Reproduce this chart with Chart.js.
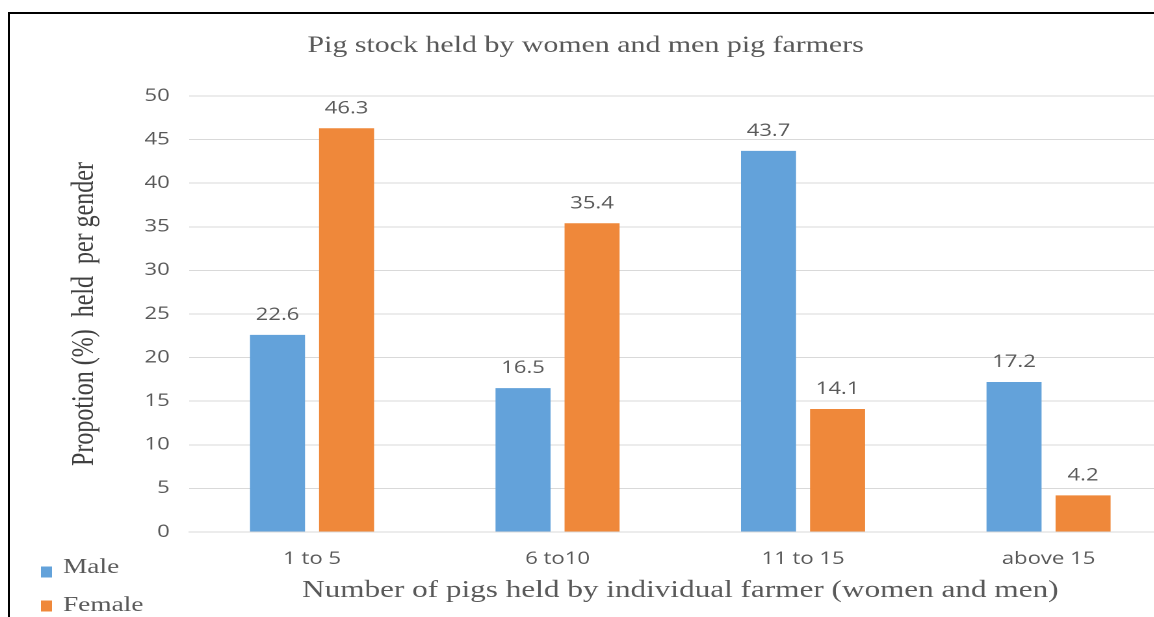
<!DOCTYPE html>
<html>
<head>
<meta charset="utf-8">
<script src="https://cdn.jsdelivr.net/npm/chart.js@4/dist/chart.umd.min.js"></script>
<style>
  html, body { margin: 0; padding: 0; background: #ffffff; overflow: hidden; width: 1154px; height: 617px; }
  #frame { position: absolute; left: 8px; top: 12px; width: 2000px; height: 2000px;
           border-top: 2px solid #000; border-left: 2px solid #000; z-index: 2; pointer-events: none; }
  #wrap { position: absolute; left: 0; top: 0; width: 901px; height: 617px;
          transform: scaleX(1.3); transform-origin: 0 0; }
</style>
</head>
<body>
<div id="wrap"><canvas id="c" width="901" height="617"></canvas></div>
<div id="frame"></div>
<script>
const categories = ['1 to 5', '6 to10', '11 to 15', 'above 15'];
const maleValues = [22.6, 16.5, 43.7, 17.2];
const femaleValues = [46.3, 35.4, 14.1, 4.2];
const seriesNames = ['Male', 'Female'];
const yTicks = [0, 5, 10, 15, 20, 25, 30, 35, 40, 45, 50];

const BLUE = '#63A2DA';
const ORANGE = '#EF883A';
const TEXT = '#595959';

const valueLabels = {
  id: 'valueLabels',
  afterDatasetsDraw(chart) {
    const ctx = chart.ctx;
    ctx.save();
    ctx.font = '17px "Open Sans"';
    ctx.fillStyle = TEXT;
    ctx.textAlign = 'center';
    ctx.textBaseline = 'alphabetic';
    chart.data.datasets.forEach((ds, di) => {
      const meta = chart.getDatasetMeta(di);
      meta.data.forEach((bar, i) => {
        ctx.fillText(ds.data[i].toFixed(1), bar.x, bar.y - 15);
      });
    });
    ctx.restore();
  }
};

const sideLegend = {
  id: 'sideLegend',
  afterDraw(chart) {
    const ctx = chart.ctx;
    ctx.save();
    ctx.font = '21px "Liberation Serif"';
    ctx.textAlign = 'left';
    ctx.textBaseline = 'alphabetic';
    const rows = [{ sq: 566.5, base: 573 }, { sq: 600.5, base: 611 }];
    chart.data.datasets.forEach((ds, di) => {
      const r = rows[di];
      ctx.fillStyle = ds.backgroundColor;
      ctx.fillRect(31.5, r.sq, 8.5, 11);
      ctx.fillStyle = TEXT;
      ctx.fillText(ds.label, 48.5, r.base);
    });
    ctx.restore();
  }
};

new Chart(document.getElementById('c'), {
  type: 'bar',
  data: {
    labels: categories,
    datasets: [
      { label: seriesNames[0], data: maleValues, backgroundColor: BLUE },
      { label: seriesNames[1], data: femaleValues, backgroundColor: ORANGE }
    ]
  },
  options: {
    responsive: false,
    animation: false,
    devicePixelRatio: 2,
    categoryPercentage: 0.5625,
    barPercentage: 0.797,
    layout: { padding: 0 },
    plugins: {
      legend: { display: false },
      tooltip: { enabled: false },
      title: {
        display: true,
        text: 'Pig stock held by women and men pig farmers',
        color: TEXT,
        font: { family: '"Liberation Serif"', size: 23, weight: 'normal' },
        padding: { top: 32, bottom: 36.4 }
      }
    },
    scales: {
      x: {
        afterFit(scale) { scale.height = 85; },
        grid: { display: false, drawTicks: false },
        border: { display: true, color: '#d9d9d9', width: 1 },
        ticks: { color: TEXT, font: { family: '"Open Sans"', size: 17 }, padding: 17 },
        title: {
          display: true,
          text: 'Number of pigs held by individual farmer (women and men)',
          color: TEXT,
          font: { family: '"Liberation Serif"', size: 24 },
          padding: { top: 7, bottom: 12 }
        }
      },
      y: {
        min: 0,
        max: 50,
        afterBuildTicks(scale) { scale.ticks = yTicks.map(v => ({ value: v })); },
        afterFit(scale) { scale.width = 145.6; },
        grid: { color: '#d9d9d9', lineWidth: 1, drawTicks: false },
        border: { display: false },
        ticks: { color: TEXT, font: { family: '"Open Sans"', size: 17 }, padding: 15 },
        title: {
          display: true,
          text: 'Propotion (%)  held  per gender',
          color: '#404040',
          font: { family: '"Liberation Serif"', size: 24 },
          padding: { top: 51, bottom: 0 }
        }
      }
    }
  },
  plugins: [valueLabels, sideLegend]
});
</script>
</body>
</html>
